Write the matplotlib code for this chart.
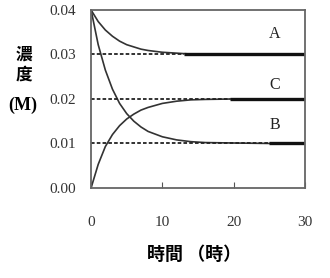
import matplotlib
matplotlib.use('Agg')
from matplotlib import pyplot as plt

# values
t = [0, 1, 2, 3, 4, 5, 6, 7, 8, 10, 12, 14, 16, 20, 25, 30]
concA = [0.0400, 0.0374, 0.0355, 0.0341, 0.0330, 0.0322, 0.0317, 0.0312, 0.0309,
         0.0305, 0.0303, 0.0301, 0.0300, 0.0300, 0.0300, 0.0300]
concB = [0.0400, 0.0322, 0.0265, 0.0222, 0.0190, 0.0167, 0.0150, 0.0137, 0.0127,
         0.0115, 0.0108, 0.0104, 0.0102, 0.0101, 0.0100, 0.0100]
concC = [0.0000, 0.0053, 0.0093, 0.0120, 0.0140, 0.0155, 0.0166, 0.0175, 0.0181,
         0.0190, 0.0195, 0.0198, 0.0199, 0.0200, 0.0200, 0.0200]
names = ['A', 'B', 'C']
eqLevels = [0.03, 0.01, 0.02]
dottedEnd = [13, 25, 19.5]
labelY = [0.0328, 0.0124, 0.0213]
xticks = [0, 10, 20, 30]
yticks = [0.00, 0.01, 0.02, 0.03, 0.04]

serif = ['Liberation Serif', 'DejaVu Serif']
cjk = ['Noto Sans CJK TC', 'DejaVu Sans']

fig = plt.figure(figsize=(3.3, 2.78), dpi=100)
ax = fig.add_axes([0.276, 0.324, 0.648, 0.640])

for conc in [concA, concB, concC]:
    ax.plot(t, conc, color='#333333', lw=1.2)

for name, lev, tEnd, ly in zip(names, eqLevels, dottedEnd, labelY):
    ax.plot([0, tEnd], [lev, lev], color='#222222', lw=1.3, ls=(0, (2, 1.2)))
    ax.plot([tEnd, 30], [lev, lev], color='#111111', lw=2.4, solid_capstyle='butt')
    ax.text(25.8, ly, name, fontsize=11.5, family=serif, color='#222222',
            ha='center', va='bottom')

ax.set_xlim(0, 30)
ax.set_ylim(0, 0.04)
ax.set_xticks(xticks)
ax.set_xticklabels([f'{v}' for v in xticks], family=serif, fontsize=11, color='#333333')
ax.set_yticks(yticks)
ax.set_yticklabels([f'{v:.2f}' for v in yticks], family=serif, fontsize=11, color='#333333')
ax.tick_params(axis='x', direction='in', length=4, pad=20, color='#555555')
ax.tick_params(axis='y', length=0, pad=11)
for sp in ax.spines.values():
    sp.set_color('#666666')
    sp.set_linewidth(1.3)

fig.text(23.5 / 330, 1 - 55 / 278, '濃', family=cjk, fontsize=12, weight='bold', ha='center', va='center')
fig.text(23.5 / 330, 1 - 75 / 278, '度', family=cjk, fontsize=12, weight='bold', ha='center', va='center')
fig.text(23 / 330, 1 - 105 / 278, '(M)', family=serif, fontsize=13, weight='bold', ha='center', va='center')
fig.text(194 / 330, 1 - 254 / 278, '時間 （時）', family=cjk, fontsize=13, weight='bold',
         ha='center', va='center')

fig.savefig('out.png')
